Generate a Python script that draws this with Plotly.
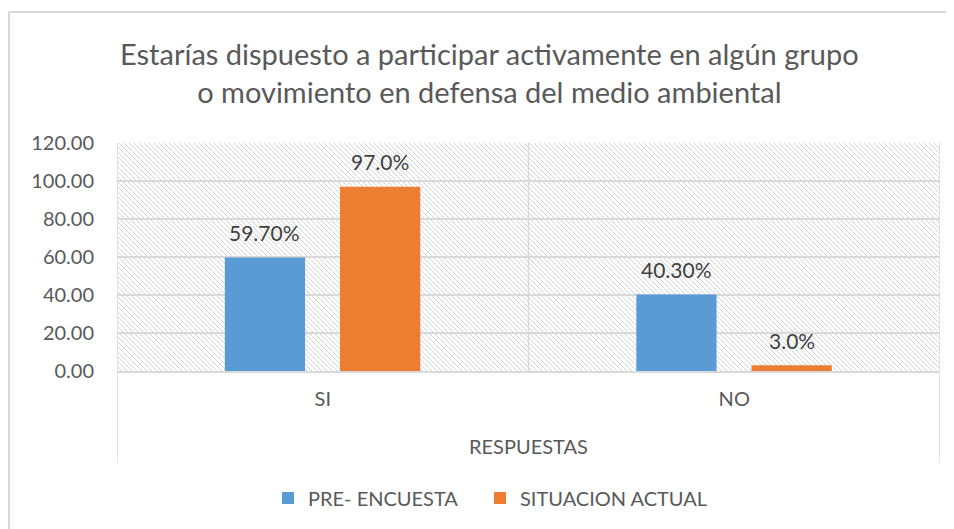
import plotly.graph_objects as go

categories = ["SI", "NO"]
pre_encuesta = [59.70, 40.30]
situacion_actual = [97.0, 3.0]
series_names = ["PRE- ENCUESTA", "SITUACION ACTUAL"]
y_ticks = [0, 20, 40, 60, 80, 100, 120]

FONT = "Lato"
BLUE = "#5B9BD5"
ORANGE = "#ED7D31"
GRID = "#D9D9D9"
TXT = "#595959"

OFF = 8  # page body margin
W, H = 954 - OFF, 529 - OFF
# page coords of plot area
PL, PR, PT, PB = 117, 940, 143, 371
ML, MT = PL - OFF, PT - OFF
PW, PH = PR - PL, PB - PT
MR, MB = W - ML - PW, H - MT - PH


def py(page_y):
    return (PB - page_y) / PH


def px(page_x):
    return (page_x - PL) / PW


BAR_W = 0.195
OFF_BLUE = -0.238
OFF_ORANGE = 0.042

fig = go.Figure()
fig.add_trace(go.Bar(
    x=categories, y=pre_encuesta, name=series_names[0],
    marker=dict(color=BLUE, line=dict(width=0)),
    width=BAR_W, offset=OFF_BLUE, legend="legend",
))
fig.add_trace(go.Bar(
    x=categories, y=situacion_actual, name=series_names[1],
    marker=dict(color=ORANGE, line=dict(width=0)),
    width=BAR_W, offset=OFF_ORANGE, legend="legend2",
))

LBL = dict(family=FONT, size=21, color="#404040")
annotations = []
for i, v in enumerate(pre_encuesta):
    annotations.append(dict(x=i + OFF_BLUE + BAR_W / 2, y=v, xref="x", yref="y",
                            text=f"{v:.2f}%", showarrow=False, yshift=25,
                            yanchor="middle", font=LBL))
for i, v in enumerate(situacion_actual):
    annotations.append(dict(x=i + OFF_ORANGE + BAR_W / 2, y=v, xref="x", yref="y",
                            text=f"{v:.1f}%", showarrow=False, yshift=25,
                            yanchor="middle", font=LBL))

annotations.append(dict(
    x=px(489), y=py(72), xref="paper", yref="paper",
    text="Estarías dispuesto a participar activamente en algún grupo<br>o movimiento en defensa del medio ambiental",
    showarrow=False, xanchor="center", yanchor="middle", align="center",
    font=dict(family=FONT, size=29, color=TXT)))
annotations.append(dict(
    x=0.5, y=py(446), xref="paper", yref="paper",
    text="RESPUESTAS", showarrow=False, xanchor="center", yanchor="middle",
    font=dict(family=FONT, size=20, color=TXT)))

# hatch pattern for plot area (decoration)
segs = []
s = 5
c = -PH
while c < PW:
    x0 = max(c, 0); x1 = min(c + PH, PW)
    if x1 > x0:
        y0 = x0 - c; y1 = x1 - c
        segs.append(f"M{x0 / PW:.5f},{1 - y0 / PH:.5f} L{x1 / PW:.5f},{1 - y1 / PH:.5f}")
    c += s
shapes = [dict(type="path", xref="paper", yref="paper", path=" ".join(segs),
               line=dict(color="#D4D4D4", width=1), layer="below")]
shapes.append(dict(type="line", xref="x", yref="y", x0=0.5, x1=0.5, y0=0, y1=120,
                   line=dict(color=GRID, width=1.5), layer="below"))
for xx in (-0.5, 1.5):
    shapes.append(dict(type="line", xref="x", yref="paper", x0=xx, x1=xx, y0=py(463), y1=1,
                       line=dict(color=GRID, width=1.5)))
shapes.append(dict(type="line", xref="paper", yref="paper", x0=px(9), x1=1.2, y0=py(12), y1=py(12),
                   line=dict(color=GRID, width=2)))
shapes.append(dict(type="line", xref="paper", yref="paper", x0=px(9), x1=px(9), y0=py(12), y1=-1.5,
                   line=dict(color=GRID, width=2)))

LEG = dict(orientation="h", xanchor="left", y=py(498), yanchor="middle",
           font=dict(family=FONT, size=20, color=TXT), itemwidth=30,
           bgcolor="rgba(0,0,0,0)")

fig.update_layout(
    width=W, height=H,
    margin=dict(l=ML, r=MR, t=MT, b=MB, pad=0),
    paper_bgcolor="white", plot_bgcolor="white",
    barmode="group",
    showlegend=True,
    legend=dict(LEG, x=px(268)),
    legend2=dict(LEG, x=px(480)),
    xaxis=dict(type="category", range=[-0.5, 1.5], showgrid=False, zeroline=False,
               showline=True, linecolor=GRID, linewidth=1.5, ticks="",
               tickfont=dict(family=FONT, size=20, color=TXT), ticklabelstandoff=9),
    yaxis=dict(range=[0, 120], tickvals=y_ticks, tickformat=".2f", showgrid=True,
               gridcolor=GRID, gridwidth=1.5, zeroline=False, showline=False, ticks="",
               tickfont=dict(family=FONT, size=20, color=TXT), ticklabelstandoff=22),
    annotations=annotations,
    shapes=shapes,
)

fig.write_html("out.html")
